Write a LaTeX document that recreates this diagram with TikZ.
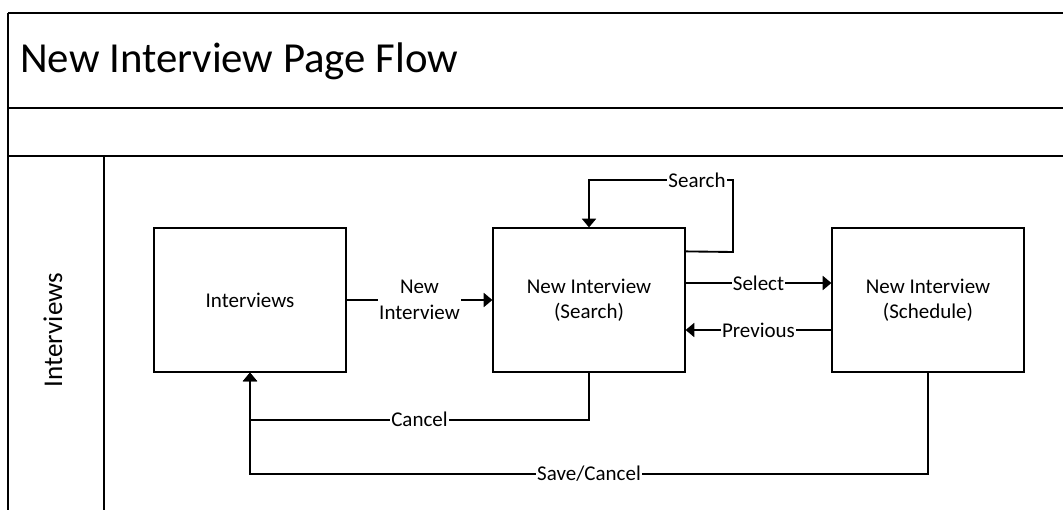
\documentclass[tikz,border=0pt]{standalone}
\usepackage{fontspec}
\setmainfont{Carlito}
\usetikzlibrary{arrows.meta,calc}
\begin{document}
\begin{tikzpicture}[x=0.75pt,y=-0.75pt,
  frame/.style={line width=1.5pt, draw=black},
  state/.style={draw, line width=0.9pt, minimum width=144pt, minimum height=108pt,
    align=center, inner sep=0pt, font=\fontsize{15.75}{19}\selectfont},
  conn/.style={line width=1.4pt, -{Triangle[length=6.5pt,width=10.5pt]}},
  lab/.style={fill=white, inner sep=1pt, align=center, font=\fontsize{15.75}{19}\selectfont},
]
\useasboundingbox (0,0) rectangle (1063,510);

% swimlane frame
\draw[frame] (8,510) -- (8,13);
\draw[line width=2pt] (8,13) -- (1063,13);
\draw[frame] (8,108) -- (1063,108);
\draw[frame] (8,156) -- (1063,156);
\draw[frame] (104,156) -- (104,510);

\node[anchor=base west, inner sep=0pt, font=\fontsize{32.1}{38}\selectfont] (title) at (20,73) {New Interview Page Flow};
\node[rotate=90, inner sep=0pt, font=\fontsize{20.3}{24}\selectfont] (lane) at (53,330) {Interviews};

% pages
\node[state] (interviews) at (250,300) {Interviews};
\node[state] (search) at (589,300) {New Interview\\(Search)};
\node[state] (schedule) at (928,300) {New Interview\\(Schedule)};

% transitions
\draw[conn] (interviews.east) -- node[lab]{New\\Interview} (search.west);
\draw[conn] ($(search.east)+(0,-17)$) -- node[lab]{Select} ($(schedule.west)+(0,-17)$);
\draw[conn] ($(schedule.west)+(0,30)$) -- node[lab]{Previous} ($(search.east)+(0,30)$);
\draw[conn] ($(search.north east)+(0,24)$) -- (733,252) -- (733,180)
  -- node[lab,pos=0.25]{Search} (589,180) -- (search.north);
\draw[conn] (search.south) -- ++(0,47) -| node[lab,pos=0.25]{Cancel} (interviews.south);
\draw[conn] (schedule.south) -- ++(0,101) -| node[lab,pos=0.25]{Save/Cancel} (interviews.south);
\end{tikzpicture}
\end{document}
